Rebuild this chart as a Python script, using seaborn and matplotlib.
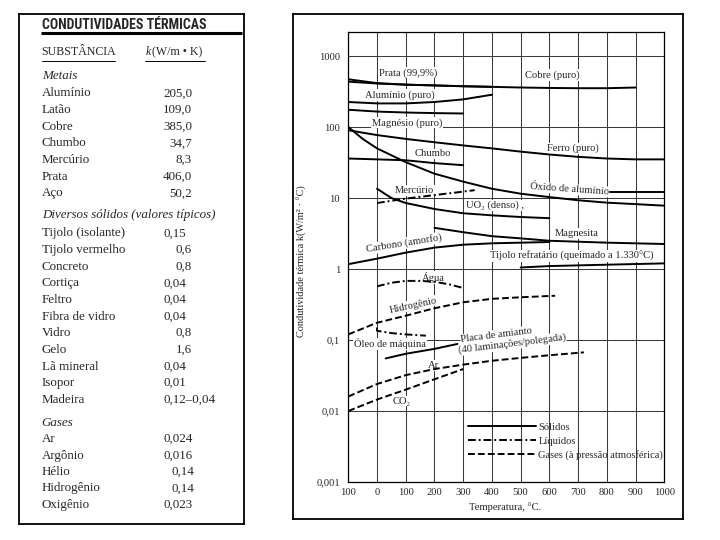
import warnings

import matplotlib.font_manager as fm
import matplotlib.pyplot as plt
import pandas as pd
import seaborn as sns
from matplotlib.lines import Line2D

warnings.filterwarnings("ignore")

sns.set_style("ticks")
plt.rcParams["font.family"] = ["Liberation Serif", "DejaVu Serif"]
SERIF = ["Liberation Serif", "DejaVu Serif"]

# narrow bold face for the table title, whichever is installed
_names = {f.name for f in fm.fontManager.ttflist}
if "Liberation Sans Narrow" in _names:
    TITLE_FONT, TITLE_SIZE = "Liberation Sans Narrow", 10.0
elif "Roboto Condensed" in _names:
    TITLE_FONT, TITLE_SIZE = "Roboto Condensed", 10.0
elif "Open Sans Condensed" in _names:
    TITLE_FONT, TITLE_SIZE = "Open Sans Condensed", 9.6
else:
    TITLE_FONT, TITLE_SIZE = "Liberation Sans", 8.6

# ---------------------------------------------------------------------------
# Table data (left panel)
# ---------------------------------------------------------------------------
METAIS = ["Alumínio", "Latão", "Cobre", "Chumbo", "Mercúrio", "Prata", "Aço"]
METAIS_K = ["205,0", "109,0", "385,0", "34,7", "8,3", "406,0", "50,2"]

SOLIDOS = ["Tijolo (isolante)", "Tijolo vermelho", "Concreto", "Cortiça", "Feltro",
           "Fibra de vidro", "Vidro", "Gelo", "Lã mineral", "Isopor", "Madeira"]
SOLIDOS_K = ["0,15", "0,6", "0,8", "0,04", "0,04", "0,04", "0,8", "1,6", "0,04",
             "0,01", "0,12–0,04"]

GASES = ["Ar", "Argônio", "Hélio", "Hidrogênio", "Oxigênio"]
GASES_K = ["0,024", "0,016", "0,14", "0,14", "0,023"]

# ---------------------------------------------------------------------------
# Curve data (right panel), temperature in °C, k in W/m·°C
# ---------------------------------------------------------------------------
COBRE_T = [-100, 0, 100, 200, 300, 400, 500, 600, 700, 800, 900]
COBRE_K = [470, 415, 395, 385, 375, 368, 360, 355, 352, 352, 360]
PRATA_T = [-100, 0, 100, 200, 300, 400]
PRATA_K = [435, 410, 395, 385, 375, 368]
ALUMINIO_T = [-100, 0, 100, 200, 300, 400]
ALUMINIO_K = [225, 215, 215, 225, 245, 285]
MAGNESIO_T = [-100, 0, 100, 200, 300]
MAGNESIO_K = [175, 165, 160, 157, 155]
FERRO_T = [-100, 0, 100, 200, 300, 400, 500, 600, 700, 800, 900, 1000]
FERRO_K = [90, 77, 68, 61, 55, 50, 45, 41, 38, 36, 35, 35]
OXIDO_T = [-100, -50, 0, 100, 200, 300, 400, 500, 600, 700, 800, 900, 1000]
OXIDO_K = [100, 68, 50, 32, 22, 17, 13.5, 11.5, 10.3, 9.3, 8.6, 8.2, 7.8]
OXIDO2_T = [810, 1000]
OXIDO2_K = [12.0, 12.0]
CHUMBO_T = [-100, 0, 100, 200, 300]
CHUMBO_K = [36, 35, 34, 31, 29]
MERCURIO_T = [0, 100, 200, 300, 340]
MERCURIO_K = [8.5, 9.8, 11, 12.3, 12.9]
UO2_T = [0, 50, 100, 200, 300, 400, 500, 600]
UO2_K = [13.5, 10, 8.5, 7, 6.1, 5.7, 5.4, 5.2]
MAGNESITA_T = [200, 300, 400, 500, 600, 800, 1000]
MAGNESITA_K = [3.8, 3.3, 2.9, 2.7, 2.5, 2.35, 2.25]
CARBONO_T = [-100, 0, 100, 200, 300, 400, 500, 600]
CARBONO_K = [1.17, 1.4, 1.7, 2.0, 2.2, 2.3, 2.35, 2.4]
TIJOLO_T = [500, 600, 800, 1000]
TIJOLO_K = [1.05, 1.1, 1.15, 1.2]
AGUA_T = [0, 50, 100, 150, 200, 250, 300]
AGUA_K = [0.57, 0.64, 0.68, 0.68, 0.66, 0.61, 0.54]
HIDROGENIO_T = [-100, 0, 100, 200, 300, 400, 500, 620]
HIDROGENIO_K = [0.12, 0.175, 0.22, 0.28, 0.34, 0.38, 0.40, 0.42]
OLEO_T = [0, 0, 50, 100, 170]
OLEO_K = [0.15, 0.135, 0.125, 0.12, 0.115]
AMIANTO_T = [30, 100, 200, 280]
AMIANTO_K = [0.055, 0.064, 0.075, 0.088]
AR_T = [-100, 0, 100, 200, 300, 400, 500, 600, 720]
AR_K = [0.016, 0.024, 0.032, 0.039, 0.045, 0.051, 0.056, 0.061, 0.067]
CO2_T = [-100, 0, 100, 200, 300]
CO2_K = [0.010, 0.0145, 0.020, 0.028, 0.039]

CURVES = [
    ("Cobre", "Sólidos", COBRE_T, COBRE_K),
    ("Prata", "Sólidos", PRATA_T, PRATA_K),
    ("Alumínio", "Sólidos", ALUMINIO_T, ALUMINIO_K),
    ("Magnésio", "Sólidos", MAGNESIO_T, MAGNESIO_K),
    ("Ferro", "Sólidos", FERRO_T, FERRO_K),
    ("Óxido de alumínio", "Sólidos", OXIDO_T, OXIDO_K),
    ("Óxido de alumínio 2", "Sólidos", OXIDO2_T, OXIDO2_K),
    ("Chumbo", "Sólidos", CHUMBO_T, CHUMBO_K),
    ("Mercúrio", "Líquidos", MERCURIO_T, MERCURIO_K),
    ("UO2", "Sólidos", UO2_T, UO2_K),
    ("Magnesita", "Sólidos", MAGNESITA_T, MAGNESITA_K),
    ("Carbono", "Sólidos", CARBONO_T, CARBONO_K),
    ("Tijolo refratário", "Sólidos", TIJOLO_T, TIJOLO_K),
    ("Água", "Líquidos", AGUA_T, AGUA_K),
    ("Hidrogênio", "Gases", HIDROGENIO_T, HIDROGENIO_K),
    ("Óleo de máquina", "Líquidos", OLEO_T, OLEO_K),
    ("Placa de amianto", "Sólidos", AMIANTO_T, AMIANTO_K),
    ("Ar", "Gases", AR_T, AR_K),
    ("CO2", "Gases", CO2_T, CO2_K),
]

df = pd.concat(
    [pd.DataFrame({"material": m, "fase": f, "T": t, "k": k}) for m, f, t, k in CURVES],
    ignore_index=True,
)

# curve labels: text, T, k, rotation
LABELS = [
    ("Prata (99,9%)", 109, 582, 0),
    ("Cobre (puro)", 611, 540, 0),
    ("Alumínio (puro)", 80, 282, 0),
    ("Magnésio (puro)", 105, 115, 0),
    ("Ferro (puro)", 683, 50, 0),
    ("Chumbo", 194, 41.7, 0),
    ("Mercúrio", 129, 12.7, 0),
    ("Óxido de alumínio", 669, 13.3, -4),
    ("UO₂ (denso) ,", 411, 7.9, 0),
    ("Magnesita", 695, 3.18, 0),
    ("Carbono (amorfo)", 95, 2.3, 9),
    ("Tijolo refratário (queimado a 1.330°C)", 678, 1.52, 0),
    ("Água", 196, 0.76, 0),
    ("Hidrogênio", 126, 0.31, 12),
    ("Óleo de máquina", 45, 0.088, 0),
    ("Placa de amianto", 417, 0.117, 7),
    ("(40 laminações/polegada)", 469, 0.088, 7),
    ("Ar", 196, 0.0437, 0),
    ("CO₂", 86, 0.0138, 0),
]

DASHES = {"Sólidos": "", "Líquidos": (4, 1.5, 1, 1.5), "Gases": (3.5, 1.6)}
X_TICKS = [-100, 0, 100, 200, 300, 400, 500, 600, 700, 800, 900, 1000]
X_TICKLABELS = ["100", "0", "100", "200", "300", "400", "500", "600", "700",
                "800", "900", "1000"]
Y_TICKS = [0.001, 0.01, 0.1, 1, 10, 100, 1000]
Y_TICKLABELS = ["0,001", "0,01", "0,1", "1", "10", "100", "1000"]

# ---------------------------------------------------------------------------
# Figure
# ---------------------------------------------------------------------------
W, H = 720, 540
fig = plt.figure(figsize=(7.2, 5.4), dpi=100)
fig.patch.set_facecolor("white")


def px_axes(x0, y0, x1, y1):
    return fig.add_axes([x0 / W, 1 - y1 / H, (x1 - x0) / W, (y1 - y0) / H])


# --- left panel: table --------------------------------------------------------
tab = px_axes(19, 14, 244, 524)
tab.set_xlim(19, 244)
tab.set_ylim(524, 14)
tab.set_xticks([])
tab.set_yticks([])
for s in tab.spines.values():
    s.set_linewidth(1.3)
    s.set_color("black")

tab.text(41.7, 25, "CONDUTIVIDADES TÉRMICAS", family=[TITLE_FONT, "DejaVu Sans"],
         weight="bold", fontsize=TITLE_SIZE, va="center", ha="left")
tab.plot([40.7, 241.7], [32.7, 32.7], color="black", lw=2.2, solid_capstyle="butt")
tab.text(41.7, 52, "SUBSTÂNCIA", fontsize=8.6, va="center", family=SERIF)
tab.text(146, 52, "k", fontsize=8.6, va="center", style="italic", family=SERIF)
tab.text(151.5, 52, "(W/m • K)", fontsize=8.6, va="center", family=SERIF)
tab.plot([41.7, 115], [60.7, 60.7], color="black", lw=0.7)
tab.plot([145, 205], [60.7, 60.7], color="black", lw=0.7)

FS = 9.4
tab.text(41.7, 76, "Metais", style="italic", fontsize=FS, va="center", family=SERIF)
for i, (name, val) in enumerate(zip(METAIS, METAIS_K)):
    y = 93.3 + i * 16.67
    tab.text(41.7, y, name, fontsize=FS, va="center", family=SERIF)
    tab.text(192, y, val, fontsize=FS, va="center", ha="right", family=SERIF)

tab.text(41.7, 215, "Diversos sólidos (valores típicos)", style="italic",
         fontsize=FS, va="center", family=SERIF)
for i, (name, val) in enumerate(zip(SOLIDOS, SOLIDOS_K)):
    y = 233.3 + i * 16.65
    dec = len(val.split("–")[0].split(",")[1])
    tab.text(41.7, y, name, fontsize=FS, va="center", family=SERIF)
    tab.text(164 if dec >= 2 else 175.7, y, val, fontsize=FS, va="center",
             family=SERIF)

tab.text(41.7, 422.7, "Gases", style="italic", fontsize=FS, va="center", family=SERIF)
for i, (name, val) in enumerate(zip(GASES, GASES_K)):
    y = 439 + i * 16.5
    dec = len(val.split(",")[1])
    tab.text(41.7, y, name, fontsize=FS, va="center", family=SERIF)
    tab.text(163.3 if dec >= 3 else 171.7, y, val, fontsize=FS, va="center",
             family=SERIF)

# --- right panel: frame -------------------------------------------------------
frame = px_axes(292.7, 14.3, 683.3, 519.3)
frame.set_xticks([])
frame.set_yticks([])
for s in frame.spines.values():
    s.set_linewidth(1.3)
    s.set_color("black")

# --- right panel: chart -------------------------------------------------------
ax = px_axes(348.3, 31.7, 664.3, 482)
ax.set_facecolor("white")

sns.lineplot(
    data=df, x="T", y="k", units="material", estimator=None, style="fase",
    dashes=DASHES, color="black", lw=1.4, legend=False, sort=False, ax=ax,
)

ax.set_yscale("log")
ax.set_xlim(-100, 1000)
ax.set_ylim(0.001, 2200)
ax.set_xticks(X_TICKS)
ax.set_xticklabels(X_TICKLABELS)
ax.set_yticks(Y_TICKS)
ax.set_yticklabels(Y_TICKLABELS)
ax.minorticks_off()
ax.tick_params(length=0, labelsize=7.6, pad=6)
ax.tick_params(axis="x", pad=4)
ax.set_axisbelow(True)
ax.grid(True, color="#3a3a3a", lw=0.75)
for s in ax.spines.values():
    s.set_linewidth(0.9)
    s.set_color("black")

ax.set_xlabel("Temperatura, °C.", fontsize=7.6)
ax.xaxis.set_label_coords(0.496, -0.045)
ax.set_ylabel("Condutividade térmica k(W/m² · °C)", fontsize=7.4)
ax.yaxis.set_label_coords(-0.132, 0.49)

for text, t, k, rot in LABELS:
    ax.text(t, k, text, fontsize=7.6, ha="center", va="center", rotation=rot,
            rotation_mode="anchor", zorder=1.5,
            bbox=dict(facecolor="white", edgecolor="none", pad=0.6))

handles = [
    Line2D([], [], color="black", lw=1.4, linestyle="-"),
    Line2D([], [], color="black", lw=1.4, dashes=DASHES["Líquidos"]),
    Line2D([], [], color="black", lw=1.4, dashes=DASHES["Gases"]),
]
ax.legend(
    handles, ["Sólidos", "Líquidos", "Gases (à pressão atmosférica)"],
    loc="upper left", bbox_to_anchor=(0.379, 0.1315), frameon=False,
    fontsize=7.6, handlelength=6.4, handletextpad=0.25, labelspacing=0.42,
    borderpad=0, borderaxespad=0,
)

fig.savefig("out.png", dpi=100, facecolor="white")
